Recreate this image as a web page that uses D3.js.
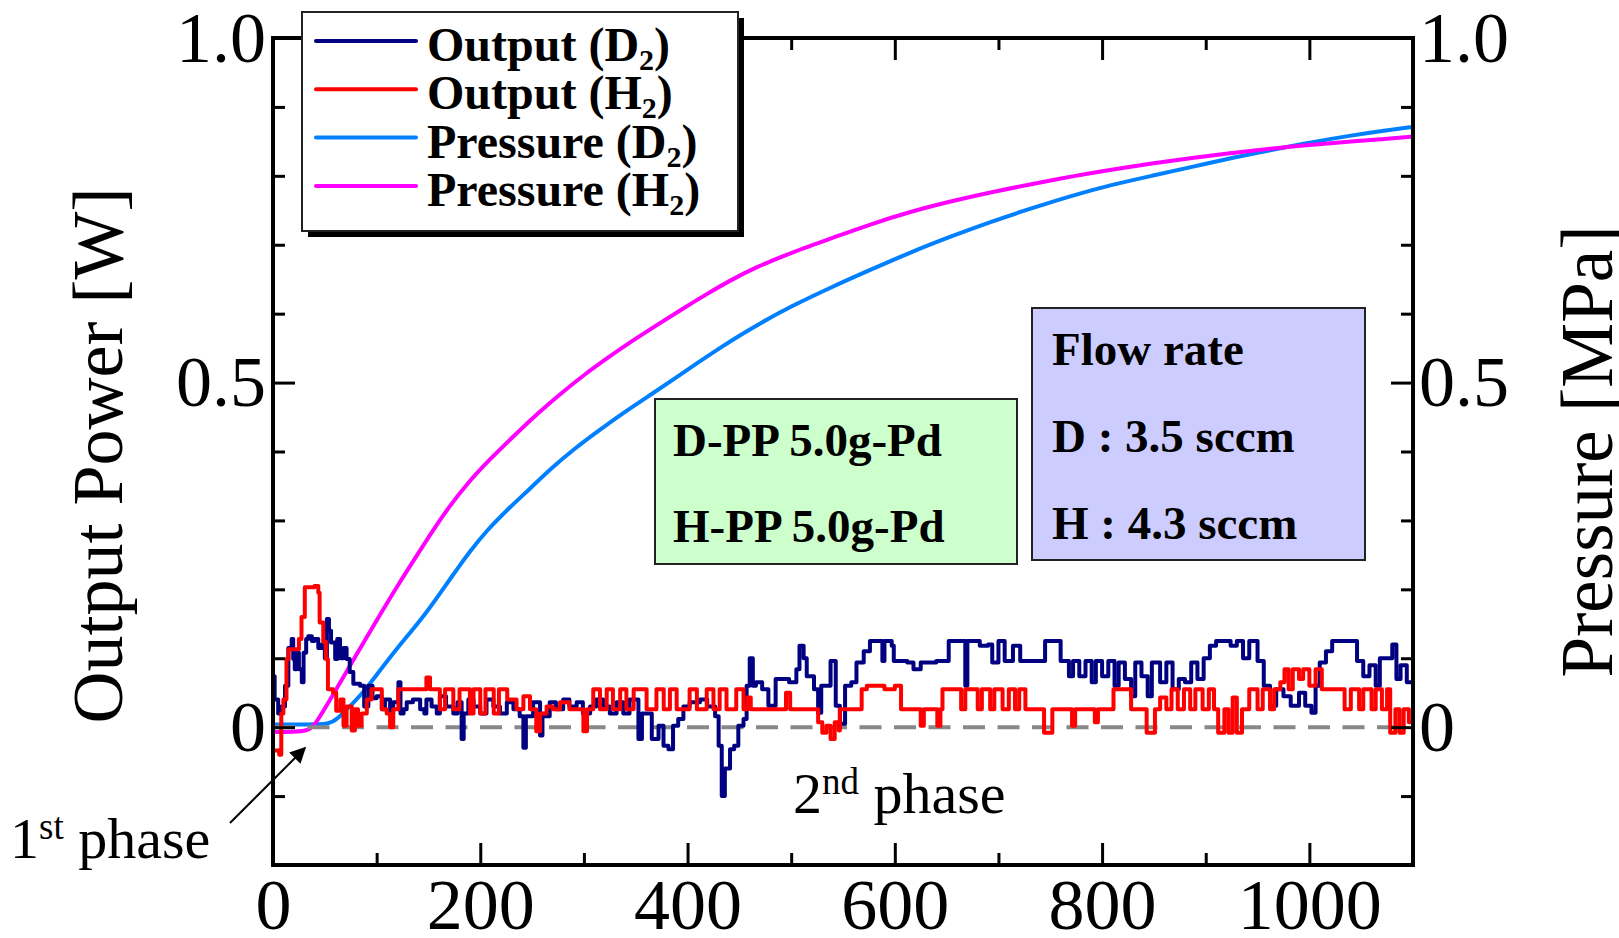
<!DOCTYPE html>
<html>
<head>
<meta charset="utf-8">
<script src="https://cdn.jsdelivr.net/npm/d3@7/dist/d3.min.js"></script>
<style>
  html, body { margin: 0; padding: 0; background: #fff; }
  svg { display: block; font-family: 'Liberation Serif', 'Times New Roman', serif; }
</style>
</head>
<body>
<div id="chart"></div>
<script>
// time [s], value
const outputD2 = [[0,0.074],[1.6,0.04],[5,0.02],[8,0.03],[11.6,0.06],[14.8,0.115],[18,0.128],[19.5,0.099],[21,0.084],[22.5,0.108],[25,0.084],[27.8,0.065],[29.5,0.108],[32,0.128],[34,0.132],[37.5,0.125],[40,0.128],[43.7,0.115],[47,0.12],[50,0.1],[52,0.157],[54,0.14],[56,0.123],[60,0.099],[62,0.128],[64.7,0.1],[68,0.115],[71,0.099],[74,0.08],[77.5,0.063],[84,0.06],[88,0.03],[92,0.06],[96,0.042],[100,0.045],[105,0.026],[108,0.04],[113,0.02],[116,0.036],[121,0.065],[123,0.02],[126,0.026],[129,0.036],[135,0.04],[142,0.026],[146,0.02],[148,0.04],[153,0.03],[158,0.02],[161,0.045],[167,0.03],[174,0.02],[178,0.036],[182,-0.017],[184,0.02],[188.5,0.04],[193.5,0.03],[200,0.02],[206,0.04],[212.6,0.03],[219,0.02],[225.6,0.036],[232,0.026],[238,0.016],[241.6,-0.03],[244,0.016],[251,0.036],[257.7,-0.012],[260,0.016],[267,0.036],[273,0.026],[280,0.04],[286,0.03],[293,0.036],[299,0.02],[306,0.03],[312,0.04],[318.6,0.03],[325,0.02],[331.5,0.036],[338,0.02],[344,0.04],[352.6,-0.017],[356,0.02],[365.5,-0.017],[372,0.002],[376.8,-0.027],[381.6,-0.032],[386,0.002],[391,0.012],[396,0.03],[402,0.036],[412,0.04],[419,0.03],[426.6,0.016],[430,-0.027],[433,-0.1],[436,-0.06],[441,-0.032],[445,-0.027],[449,0.002],[454,0.012],[457,0.06],[460,0.1],[463,0.06],[466,0.065],[472,0.055],[478,0.031],[485,0.07],[492,0.07],[498,0.065],[505,0.084],[508,0.118],[512,0.1],[515,0.074],[522,0.055],[526,0.021],[529,0.06],[538,0.096],[543,0.031],[547,0.005],[552,0.06],[558,0.065],[563,0.094],[570,0.11],[576,0.125],[588,0.096],[590,0.125],[597,0.118],[599,0.096],[612,0.094],[618,0.084],[625,0.094],[640,0.096],[652,0.125],[668,0.06],[670,0.125],[682,0.118],[690,0.12],[694,0.094],[700,0.125],[706,0.096],[714,0.118],[721,0.096],[745,0.125],[760,0.096],[768,0.074],[772,0.096],[778,0.074],[784,0.096],[790,0.065],[794,0.096],[800,0.074],[806,0.096],[812,0.06],[816,0.094],[822,0.07],[828,0.045],[832,0.094],[838,0.074],[844,0.045],[848,0.094],[856,0.065],[862,0.094],[868,0.055],[874,0.07],[880,0.065],[886,0.094],[892,0.07],[898,0.1],[904,0.118],[910,0.125],[924,0.118],[930,0.125],[936,0.1],[942,0.125],[950,0.096],[956,0.06],[962,0.031],[968,0.055],[975,0.045],[982,0.031],[990,0.05],[996,0.031],[1002,0.021],[1006,0.06],[1010,0.094],[1016,0.11],[1022,0.125],[1046,0.096],[1052,0.074],[1058,0.09],[1064,0.06],[1068,0.1],[1080,0.12],[1084,0.07],[1088,0.09],[1094,0.065],[1100,0.065]];

const outputH2 = [[0,-0.034],[6,-0.04],[8,0.02],[10,0.04],[13,0.099],[15,0.113],[21,0.113],[25,0.128],[27.5,0.16],[30.7,0.203],[40,0.205],[43.7,0.195],[45,0.152],[48.5,0.124],[51,0.099],[53,0.055],[58,0.05],[61,0.024],[65,0.04],[68,0.002],[71,0.03],[76,-0.005],[79,0.026],[82,0.002],[85.5,0.02],[90.5,0.04],[95,0.055],[105,0.026],[109.7,0.02],[113,0.0],[116,0.026],[121,0.055],[148,0.072],[151.5,0.055],[161,0.026],[166,0.055],[174,0.026],[180,0.055],[190,0.02],[193.5,0.055],[200,0.02],[205,0.055],[213,0.02],[218,0.055],[226,0.04],[235,0.026],[241.6,0.045],[248,0.026],[254,-0.006],[257.7,0.02],[264,0.03],[270,0.026],[277,0.036],[286,0.026],[299.5,-0.006],[303,0.026],[309,0.055],[315.5,0.026],[322,0.055],[328,0.026],[335,0.055],[341,0.026],[348,0.055],[360.5,0.026],[370,0.055],[377,0.026],[383,0.055],[389.5,0.026],[402,0.055],[409,0.026],[418.5,0.055],[425,0.026],[431,0.055],[437.6,0.026],[447,0.055],[454,0.026],[458,0.043],[461,0.026],[495,0.05],[499,0.026],[526,0.007],[530,-0.008],[534,0.002],[538,-0.017],[542,0.007],[546,-0.005],[547,0.026],[568,0.055],[573,0.06],[590,0.055],[600,0.06],[606,0.026],[625,0.002],[628,0.026],[641,0.002],[644,0.026],[646,0.055],[664,0.026],[668,0.055],[680,0.026],[684,0.055],[692,0.026],[696,0.055],[704,0.026],[710,0.055],[716,0.026],[720,0.055],[726,0.026],[744,-0.008],[752,0.026],[771,0.002],[774,0.026],[793,0.007],[796,0.026],[811,0.055],[828,0.026],[843,-0.008],[851,0.026],[856,0.043],[862,0.026],[867,0.055],[873,0.026],[879,0.055],[885,0.026],[890,0.055],[897,0.026],[903,0.055],[908,0.026],[912,-0.008],[918,0.026],[922,-0.008],[926,0.043],[930,-0.008],[935,0.026],[942,0.055],[950,0.026],[955,0.055],[962,0.026],[966,0.055],[972,0.065],[976,0.084],[980,0.055],[984,0.084],[990,0.07],[994,0.084],[1000,0.06],[1006,0.084],[1012,0.055],[1034,0.026],[1040,0.055],[1048,0.026],[1052,0.055],[1060,0.026],[1064,0.055],[1070,0.026],[1075,0.055],[1078,-0.008],[1083,0.026],[1087,-0.008],[1091,0.026],[1096,0.007],[1100,0.02]];

const pressureD2 = [[0,0.004],[30,0.004],[55,0.004],[62,0.012],[72,0.027],[87,0.05],[103,0.082],[119,0.113],[134,0.14],[148,0.166],[163,0.198],[176,0.226],[190,0.255],[206,0.285],[227,0.317],[248,0.346],[268,0.375],[290,0.403],[314,0.43],[338,0.456],[362,0.48],[386,0.504],[410,0.529],[434,0.553],[452,0.57],[470,0.586],[499,0.61],[538,0.638],[577,0.664],[615,0.689],[654,0.712],[692,0.733],[732,0.753],[770,0.771],[809,0.787],[848,0.8],[887,0.813],[925,0.826],[965,0.838],[1003,0.849],[1042,0.859],[1070,0.865],[1100,0.871]];

const pressureH2 = [[0,-0.007],[20,-0.007],[36,-0.005],[42,0.007],[60,0.052],[80,0.104],[100,0.155],[120,0.205],[140,0.252],[154,0.285],[170,0.32],[187,0.353],[210,0.39],[232,0.422],[255,0.455],[280,0.487],[300,0.511],[322,0.535],[345,0.559],[370,0.583],[395,0.607],[418,0.628],[442,0.649],[467,0.668],[499,0.688],[540,0.71],[577,0.73],[615,0.748],[654,0.763],[692,0.776],[732,0.788],[770,0.799],[809,0.809],[848,0.818],[887,0.826],[925,0.833],[965,0.84],[1003,0.845],[1042,0.85],[1070,0.853],[1100,0.857]];

const xMajor = [0, 200, 400, 600, 800, 1000];
const xMinor = [100, 300, 500, 700, 900, 1100];
const yMajor = [0, 0.5, 1.0];
const yMinor = [-0.1, 0.1, 0.2, 0.3, 0.4, 0.6, 0.7, 0.8, 0.9];

const legendItems = [
  { name: 'Output', sub: 'D', color: '#000080' },
  { name: 'Output', sub: 'H', color: '#ff0000' },
  { name: 'Pressure', sub: 'D', color: '#0080ff' },
  { name: 'Pressure', sub: 'H', color: '#ff00ff' }
];

(function () {
  const W = 1619, H = 938;
  const svg = d3.select('#chart').append('svg')
    .attr('width', W).attr('height', H);

  const x = d3.scaleLinear().domain([0, 1100]).range([273, 1413]);
  const y = d3.scaleLinear().domain([-0.2, 1.0]).range([865, 38]);
  const yFmt = d => d === 0 ? '0' : d.toFixed(1);

  // series
  const stepLine = d3.line().x(d => x(d[0])).y(d => y(d[1])).curve(d3.curveStepAfter);
  const smoothLine = d3.line().x(d => x(d[0])).y(d => y(d[1])).curve(d3.curveBasis);

  const plot = svg.append('g').attr('class', 'plot');

  plot.append('path').datum(pressureD2)
    .attr('d', smoothLine).attr('fill', 'none')
    .attr('stroke', '#0080ff').attr('stroke-width', 4);
  plot.append('path').datum(pressureH2)
    .attr('d', smoothLine).attr('fill', 'none')
    .attr('stroke', '#ff00ff').attr('stroke-width', 4);

  // zero reference
  plot.append('line')
    .attr('x1', x(0)).attr('x2', x(1100))
    .attr('y1', y(0)).attr('y2', y(0))
    .attr('stroke', '#888').attr('stroke-width', 4)
    .attr('stroke-dasharray', '22 12.5');

  plot.append('path').datum(outputD2)
    .attr('d', stepLine).attr('fill', 'none')
    .attr('stroke', '#000080').attr('stroke-width', 4)
    .attr('stroke-linejoin', 'round');
  plot.append('path').datum(outputH2)
    .attr('d', stepLine).attr('fill', 'none')
    .attr('stroke', '#ff0000').attr('stroke-width', 4)
    .attr('stroke-linejoin', 'round');

  // axes (ticks point inward)
  function styleAxis(g) {
    g.select('.domain').remove();
    g.selectAll('.tick line').attr('stroke', '#000').attr('stroke-width', 3);
    g.selectAll('.tick text')
      .attr('font-family', "'Liberation Serif', 'Times New Roman', serif")
      .attr('font-size', 72).attr('fill', '#000');
  }

  const y0 = y(-0.2), y1 = y(1.0);

  svg.append('g').attr('transform', `translate(0,${y0})`)
    .call(d3.axisBottom(x).tickValues(xMajor).tickSize(-22).tickPadding(13).tickFormat(d3.format('d')))
    .call(styleAxis);
  svg.append('g').attr('transform', `translate(0,${y0})`)
    .call(d3.axisBottom(x).tickValues(xMinor).tickSize(-12).tickFormat(''))
    .call(styleAxis);
  svg.append('g').attr('transform', `translate(0,${y1})`)
    .call(d3.axisTop(x).tickValues(xMajor).tickSize(-22).tickFormat(''))
    .call(styleAxis);
  svg.append('g').attr('transform', `translate(0,${y1})`)
    .call(d3.axisTop(x).tickValues(xMinor).tickSize(-12).tickFormat(''))
    .call(styleAxis);

  svg.append('g').attr('transform', `translate(${x(0)},0)`)
    .call(d3.axisLeft(y).tickValues(yMajor).tickSize(-22).tickPadding(7).tickFormat(yFmt))
    .call(styleAxis);
  svg.append('g').attr('transform', `translate(${x(0)},0)`)
    .call(d3.axisLeft(y).tickValues(yMinor).tickSize(-12).tickFormat(''))
    .call(styleAxis);
  svg.append('g').attr('transform', `translate(${x(1100)},0)`)
    .call(d3.axisRight(y).tickValues(yMajor).tickSize(-22).tickPadding(6).tickFormat(yFmt))
    .call(styleAxis);
  svg.append('g').attr('transform', `translate(${x(1100)},0)`)
    .call(d3.axisRight(y).tickValues(yMinor).tickSize(-12).tickFormat(''))
    .call(styleAxis);

  // frame
  svg.append('rect')
    .attr('x', x(0)).attr('y', y1)
    .attr('width', x(1100) - x(0)).attr('height', y0 - y1)
    .attr('fill', 'none').attr('stroke', '#000').attr('stroke-width', 4);

  // axis titles
  svg.append('text')
    .attr('transform', `translate(122,${(y0 + y1) / 2 + 4}) rotate(-90)`)
    .attr('text-anchor', 'middle')
    .attr('font-size', 72)
    .text('Output Power [W]');
  svg.append('text')
    .attr('transform', `translate(1612,${(y0 + y1) / 2}) rotate(-90)`)
    .attr('text-anchor', 'middle')
    .attr('font-size', 73)
    .text('Pressure [MPa]');

  // info boxes
  const boxG = svg.append('g').attr('font-weight', 700).attr('font-size', 47);
  boxG.append('rect')
    .attr('x', 655).attr('y', 399).attr('width', 362).attr('height', 165)
    .attr('fill', '#ccffcc').attr('stroke', '#222').attr('stroke-width', 2);
  boxG.append('text').attr('x', 673).attr('y', 456).text('D-PP 5.0g-Pd');
  boxG.append('text').attr('x', 673).attr('y', 542).text('H-PP 5.0g-Pd');

  boxG.append('rect')
    .attr('x', 1032).attr('y', 308).attr('width', 333).attr('height', 252)
    .attr('fill', '#ccccff').attr('stroke', '#222').attr('stroke-width', 2);
  boxG.append('text').attr('x', 1052).attr('y', 365).text('Flow rate');
  boxG.append('text').attr('x', 1052).attr('y', 452).text('D : 3.5 sccm');
  boxG.append('text').attr('x', 1052).attr('y', 539).text('H : 4.3 sccm');

  // phase annotations
  const ann = svg.append('g').attr('font-size', 58);
  const t1 = ann.append('text').attr('x', 10).attr('y', 858);
  t1.append('tspan').text('1');
  t1.append('tspan').attr('font-size', 37).attr('dy', -19).text('st');
  t1.append('tspan').attr('dy', 19).text(' phase');

  const t2 = ann.append('text').attr('x', 793).attr('y', 813);
  t2.append('tspan').text('2');
  t2.append('tspan').attr('font-size', 37).attr('dy', -19).text('nd');
  t2.append('tspan').attr('dy', 19).text(' phase');

  svg.append('defs').append('marker')
    .attr('id', 'arrow').attr('viewBox', '0 0 10 10')
    .attr('refX', 9).attr('refY', 5)
    .attr('markerWidth', 18).attr('markerHeight', 16)
    .attr('markerUnits', 'userSpaceOnUse')
    .attr('orient', 'auto')
    .append('path').attr('d', 'M0,0 L10,5 L0,10 z').attr('fill', '#000');
  svg.append('line')
    .attr('x1', 230).attr('y1', 823).attr('x2', 305).attr('y2', 748)
    .attr('stroke', '#000').attr('stroke-width', 2)
    .attr('marker-end', 'url(#arrow)');

  // legend
  const lg = svg.append('g').attr('class', 'legend');
  lg.append('rect')
    .attr('x', 308).attr('y', 18).attr('width', 436).attr('height', 219)
    .attr('fill', '#000');
  lg.append('rect')
    .attr('x', 302).attr('y', 12).attr('width', 436).attr('height', 219)
    .attr('fill', '#fff').attr('stroke', '#222').attr('stroke-width', 2);

  const rows = lg.selectAll('g.row').data(legendItems).enter()
    .append('g').attr('class', 'row')
    .attr('transform', (d, i) => `translate(0,${41 + i * 48.3})`);
  rows.append('line')
    .attr('x1', 316).attr('x2', 416)
    .attr('stroke', d => d.color).attr('stroke-width', 4)
    .attr('stroke-linecap', 'round');
  const lt = rows.append('text')
    .attr('x', 427).attr('y', 20)
    .attr('font-size', 48).attr('font-weight', 700);
  lt.append('tspan').text(d => `${d.name} (${d.sub}`);
  lt.append('tspan').attr('font-size', 30).attr('dy', 9).text('2');
  lt.append('tspan').attr('dy', -9).text(')');
})();
</script>
</body>
</html>
